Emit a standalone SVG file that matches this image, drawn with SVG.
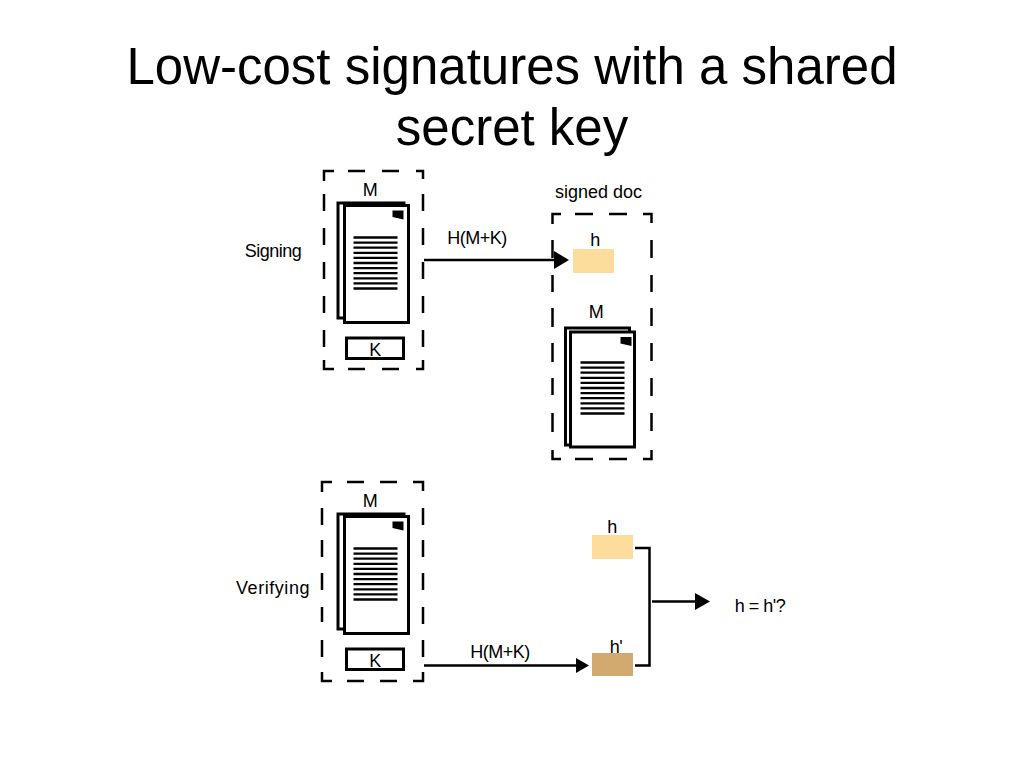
<svg xmlns="http://www.w3.org/2000/svg" xmlns:xlink="http://www.w3.org/1999/xlink" width="1024" height="768" viewBox="0 0 1024 768">
<style>
text{font-family:"Liberation Sans",Arial,sans-serif;fill:#000}
.title{font-size:51px;text-anchor:middle}
.lb{font-size:18px;text-anchor:middle;letter-spacing:-.5px}
.dash{fill:none;stroke:#000;stroke-width:2.5}
.ln{fill:none;stroke:#000;stroke-width:2.5}
.pg{fill:#fff;stroke:#000;stroke-width:3}
.bar{stroke:#000;stroke-width:2.3}
.key{fill:#fff;stroke:#000;stroke-width:3}
</style>
<defs>
<g id="marks">
<path d="M48 5H59V14L48 11.500Z" fill="#000"/>
</g>
<path id="bars" class="bar" d="M0 0H44M0 5.100H44M0 10.200H44M0 15.300H44M0 20.400H44M0 25.500H44M0 30.600H44M0 35.700H44M0 40.800H44M0 45.900H44M0 51H44"/>
</defs>
<rect width="1024" height="768" fill="#fff"/>
<g id="title">
<text class="title" x="512" y="84">Low-cost signatures with a shared</text>
<text class="title" x="512" y="145">secret key</text>
</g>
<g id="signing-box">
<path class="dash" d="M324 181V171H334M348 171H365M382 171H399M416 171H423V179M423 194V211M423 228V245M423 262V279M423 296V313M423 330V347M423 360V369H416M399 369H382M365 369H348M334 369H324V360M324 347V330M324 313V296M324 279V262M324 245V228M324 211V194"/>
<text class="lb" x="370" y="196">M</text>
<rect class="pg" x="338" y="203" width="66" height="115"/>
<rect class="pg" x="344.500" y="205.500" width="64" height="117"/>
<use xlink:href="#marks" href="#marks" x="344.500" y="205.500"/>
<use xlink:href="#bars" href="#bars" x="353.500" y="237.500"/>
<rect class="key" x="346.500" y="338" width="57" height="20.500"/>
<text class="lb" x="375" y="356">K</text>
</g>
<text id="signing-label" class="lb" x="273" y="257">Signing</text>
<g id="signed-doc">
<text class="lb" x="598.500" y="198" style="letter-spacing:0">signed doc</text>
<path class="dash" d="M552.500 224V214H561M575 214H593M609 214H627M643 214H651.500V223M651.500 240V258M651.500 275V292M651.500 308V326M651.500 343V361M651.500 378V396M651.500 413V431M651.500 450V459H643M627 459H609M593 459H575M561 459H552.500V450M552.500 432V413M552.500 395V378M552.500 362V343M552.500 327V308M552.500 292V275M552.500 258V240"/>
<text class="lb" x="595" y="246">h</text>
<rect x="573" y="249" width="41" height="24" fill="#fedc9c"/>
<text class="lb" x="596" y="318">M</text>
<rect class="pg" x="565.500" y="328" width="64" height="117"/>
<rect class="pg" x="570.500" y="332" width="64" height="115"/>
<use xlink:href="#marks" href="#marks" x="572.500" y="332"/>
<use xlink:href="#bars" href="#bars" x="580.500" y="362.500"/>
</g>
<g id="verifying-box">
<path class="dash" d="M322 492V482H332M347 482H364M380 482H397M413 482H423V491M423 508V525M423 540V557M423 573V590M423 607V624M423 640V657M423 672V681H413M397 681H380M364 681H347M332 681H322V672M322 657V640M322 622V607M322 590V573M322 557V540M322 525V508"/>
<text class="lb" x="370" y="507">M</text>
<rect class="pg" x="338" y="514" width="66" height="115"/>
<rect class="pg" x="344.500" y="516.500" width="64" height="117"/>
<use xlink:href="#marks" href="#marks" x="344.500" y="516.500"/>
<use xlink:href="#bars" href="#bars" x="353.500" y="548.500"/>
<rect class="key" x="346.500" y="649" width="57" height="20.500"/>
<text class="lb" x="375" y="667">K</text>
</g>
<text id="verifying-label" class="lb" x="272.500" y="594" textLength="73" lengthAdjust="spacing">Verifying</text>
<g id="h-top">
<text class="lb" x="612" y="533">h</text>
<rect x="592" y="535" width="41" height="24" fill="#fedc9c"/>
</g>
<g id="h-prime">
<rect x="592" y="653" width="41" height="23" fill="#d2a96f"/>
<text class="lb" x="616" y="653">h'</text>
</g>
<text id="result" class="lb" x="760" y="612">h = h'?</text>
<g id="connectors">
<path class="ln" d="M424 260H556"/>
<path d="M554 251L569 260L554 269Z" fill="#000"/>
<text class="lb" x="477" y="244">H(M+K)</text>
<path class="ln" d="M424 665.500H578"/>
<path d="M576 658L589 665.500L576 673Z" fill="#000"/>
<text class="lb" x="500" y="658">H(M+K)</text>
<path class="ln" d="M635 548H649.500V665.500H635"/>
<path class="ln" d="M652 601.500H697"/>
<path d="M695 593L710 601.500L695 610Z" fill="#000"/>
</g>
</svg>
